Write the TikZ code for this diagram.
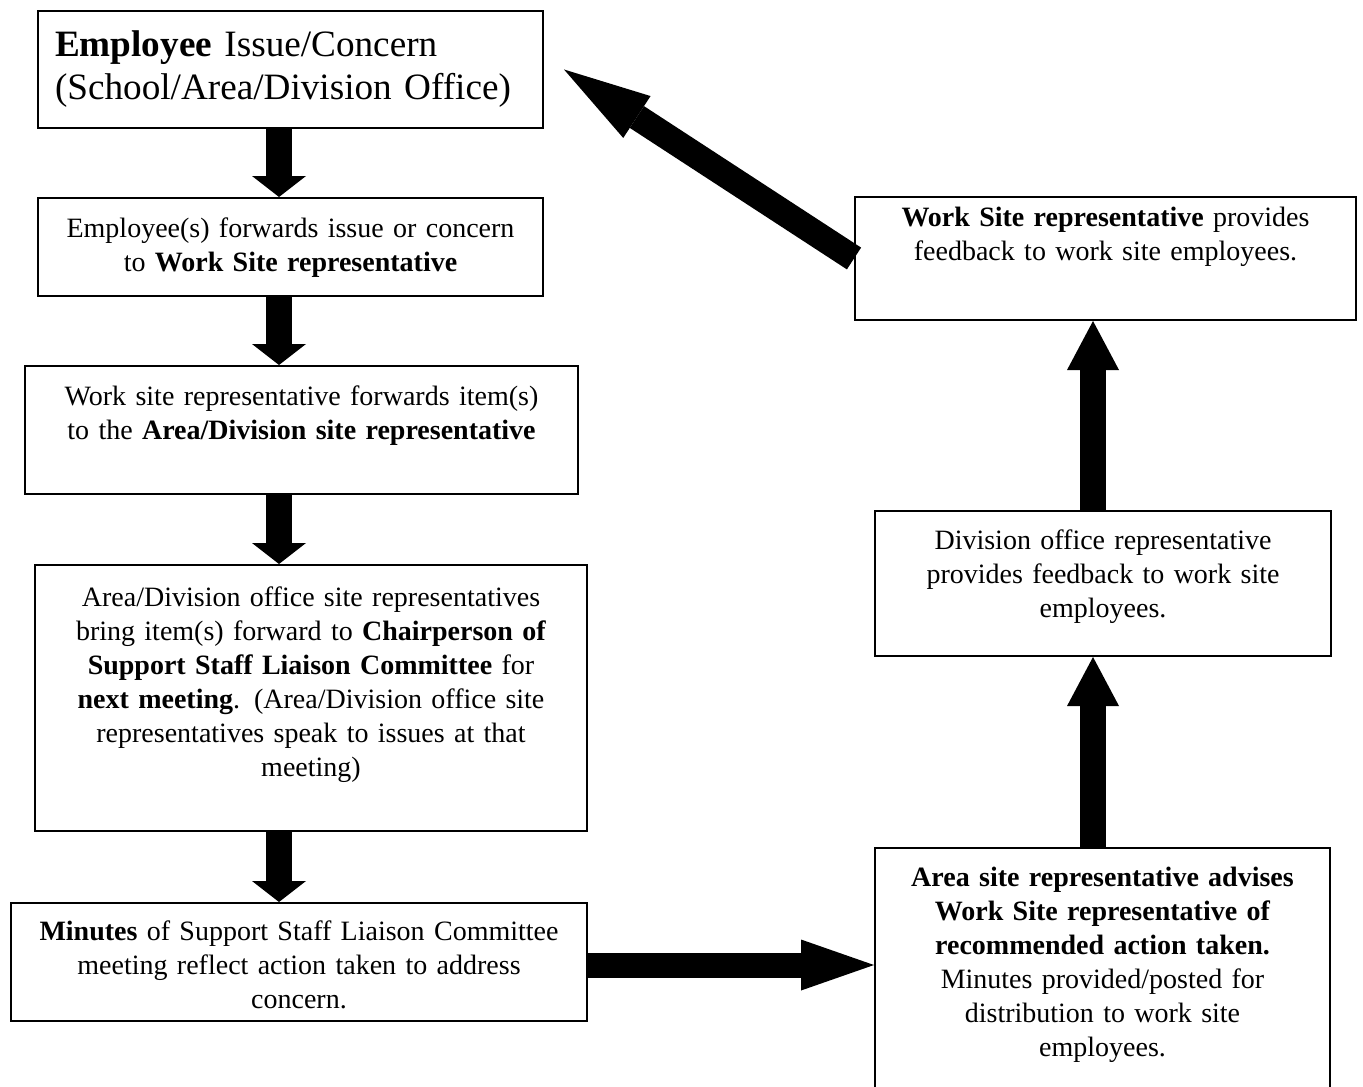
\documentclass[tikz,border=0pt]{standalone}
\usepackage{fontspec}
\setmainfont{Liberation Serif}
\usetikzlibrary{arrows.meta}
\newcommand{\boxfont}{\fontsize{14}{17}\selectfont}
\newcommand{\headfont}{\fontsize{18.6}{21}\selectfont}
\tikzset{
  stepbox/.style={draw, line width=1pt, anchor=north, inner xsep=0pt,
    inner ysep=0pt, align=center, font=\boxfont},
  down arrow/.style={line width=13pt,
    -{Triangle[length=10.5pt, width=27pt, line width=0pt]}},
  up arrow/.style={line width=13pt,
    -{Triangle[length=24.5pt, width=26pt, line width=0pt]}},
  side arrow/.style={line width=12.5pt,
    -{Triangle[length=36.5pt, width=25.5pt, line width=0pt]}},
  back arrow/.style={line width=13pt,
    -{Triangle[length=43.5pt, width=25pt, line width=0pt]}}
}

\begin{document}
\begin{tikzpicture}[x=0.5pt, y=-0.5pt]
    \clip (0,0) rectangle (1363,1086);
    % left column, top to bottom
    \node[stepbox, font=\headfont, align=left, inner xsep=8.5pt, text width=235.5pt,
      text height=23pt, text depth=35.5pt] (concern) at (290.5,10)
      {\textbf{Employee} Issue/Concern\\(School/Area/Division Office)};
    \node[stepbox, text width=252.5pt, text height=19.5pt, text depth=29.5pt]
      (forward) at (290.5,197)
      {Employee(s) forwards issue or concern\\to \textbf{Work Site representative}};
    \node[stepbox, text width=276.5pt, text height=19.5pt, text depth=44.5pt]
      (itemfwd) at (301.5,365)
      {Work site representative forwards item(s)\\to the \textbf{Area/Division site representative}};
    \node[stepbox, text width=276pt, text height=20.5pt, text depth=112.5pt]
      (chair) at (311,564)
      {Area/Division office site representatives\\bring item(s) forward to \textbf{Chairperson of}\\
       \textbf{Support Staff Liaison Committee} for\\\textbf{next meeting}. (Area/Division office site\\
       representatives speak to issues at that\\meeting)};
    \node[stepbox, text width=288pt, text height=18.5pt, text depth=40.5pt]
      (minutes) at (299,902)
      {\textbf{Minutes} of Support Staff Liaison Committee\\meeting reflect action taken to address\\concern.};
    % right column, bottom to top
    \node[stepbox, text width=227.5pt, text height=19pt, text depth=120pt]
      (advise) at (1102.5,847)
      {\textbf{Area site representative advises}\\\textbf{Work Site representative of}\\
       \textbf{recommended action taken.}\\Minutes provided/posted for\\distribution to work site\\employees.};
    \node[stepbox, text width=228pt, text height=19pt, text depth=53.5pt]
      (divfb) at (1103,510)
      {Division office representative\\provides feedback to work site\\employees.};
    \node[stepbox, text width=250.5pt, text height=14.5pt, text depth=47pt]
      (sitefb) at (1105.5,196)
      {\textbf{Work Site representative} provides\\feedback to work site employees.};

    \coordinate (leftcol) at (279,0);
    \coordinate (rightcol) at (1093,0);
    \foreach \from/\to in {concern/forward, forward/itemfwd, itemfwd/chair, chair/minutes}
      \draw[down arrow] (\from.south -| leftcol) -- (\to.north -| leftcol);
    \foreach \from/\to in {advise/divfb, divfb/sitefb}
      \draw[up arrow] (\from.north -| rightcol) -- (\to.south -| rightcol);
    \draw[side arrow] ([yshift=-1.5pt]minutes.east) -- ([yshift=-1.5pt]minutes.east -| advise.west);
    \draw[back arrow] (sitefb.west) -- ([xshift=10pt]concern.east);
\end{tikzpicture}
\end{document}
